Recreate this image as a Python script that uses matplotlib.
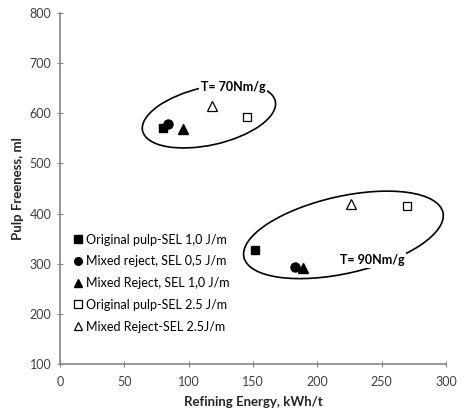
import matplotlib
matplotlib.use('Agg')
import matplotlib.pyplot as plt
from matplotlib.patches import Ellipse
from matplotlib.transforms import ScaledTranslation

# Dati (energia kWh/t, freeness ml)
orig_sel10_x = [80, 151.5]
orig_sel10_y = [571, 327]
mixed_sel05_x = [84, 182.5]
mixed_sel05_y = [579, 293]
mixed_sel10_x = [95.5, 189]
mixed_sel10_y = [568, 291]
orig_sel25_x = [145.5, 270]
orig_sel25_y = [593, 416]
mixed_sel25_x = [118, 226]
mixed_sel25_y = [615, 419]

labels = ['Original pulp-SEL 1,0 J/m', 'Mixed reject, SEL 0,5 J/m',
          'Mixed Reject, SEL 1,0 J/m', 'Original pulp-SEL 2.5 J/m',
          'Mixed Reject-SEL 2.5J/m']

plt.rcParams['font.family'] = ['Lato', 'DejaVu Sans']
grey = '#868686'
txt = '#404040'

fig = plt.figure(figsize=(4.68, 4.18), dpi=100)
ax = fig.add_axes([0.128, 0.129, 0.825, 0.84])

ax.plot(orig_sel10_x, orig_sel10_y, 's', color='black', ms=6, label=labels[0])
ax.plot(mixed_sel05_x, mixed_sel05_y, 'o', color='black', ms=6.5, label=labels[1])
ax.plot(mixed_sel10_x, mixed_sel10_y, '^', color='black', ms=7, label=labels[2])
ax.plot(orig_sel25_x, orig_sel25_y, 's', mfc='white', mec='black', mew=0.9, ms=6, label=labels[3])
ax.plot(mixed_sel25_x, mixed_sel25_y, '^', mfc='white', mec='black', mew=0.9, ms=7, label=labels[4])

ax.set_xlim(0, 300)
ax.set_ylim(100, 800)
ax.set_xticks(range(0, 301, 50))
ax.set_yticks(range(100, 801, 100))

for s in ['top', 'right']:
    ax.spines[s].set_visible(False)
for s in ['left', 'bottom']:
    ax.spines[s].set_color(grey)
    ax.spines[s].set_linewidth(1.2)
ax.tick_params(direction='inout', length=5, color=grey, labelcolor=txt, labelsize=9)
ax.tick_params(axis='x', pad=6)

ax.set_xlabel('Refining Energy, kWh/t', fontsize=9.5, fontweight='bold', color='#262626', labelpad=6)
ax.set_ylabel('Pulp Freeness, ml', fontsize=9.5, fontweight='bold', color='#262626', labelpad=4)

# ellissi (dimensioni in pollici, centro in coordinate dati)
e1 = Ellipse((0, 0), 1.36, 0.58, angle=12.7, fill=False, lw=1.2, color='black',
             transform=fig.dpi_scale_trans + ScaledTranslation(115.8, 594.6, ax.transData))
e2 = Ellipse((0, 0), 2.04, 0.77, angle=12.7, fill=False, lw=1.2, color='black',
             transform=fig.dpi_scale_trans + ScaledTranslation(220.3, 357.6, ax.transData))
ax.add_patch(e1)
ax.add_patch(e2)

ax.text(134.4, 653, 'T= 70Nm/g', fontsize=9, fontweight='bold', ha='center', va='center',
        bbox=dict(facecolor='white', edgecolor='none', pad=1), zorder=5)
ax.text(243, 306.6, 'T= 90Nm/g', fontsize=9, fontweight='bold', ha='center', va='center',
        bbox=dict(facecolor='white', edgecolor='none', pad=1), zorder=5)

ax.legend(loc='upper left', bbox_to_anchor=(0.025, 0.386), frameon=False, fontsize=9,
          handlelength=0.6, handletextpad=0.35, labelspacing=0.78, borderaxespad=0,
          markerscale=0.85, labelcolor='black')

fig.savefig('out.png', dpi=100)
